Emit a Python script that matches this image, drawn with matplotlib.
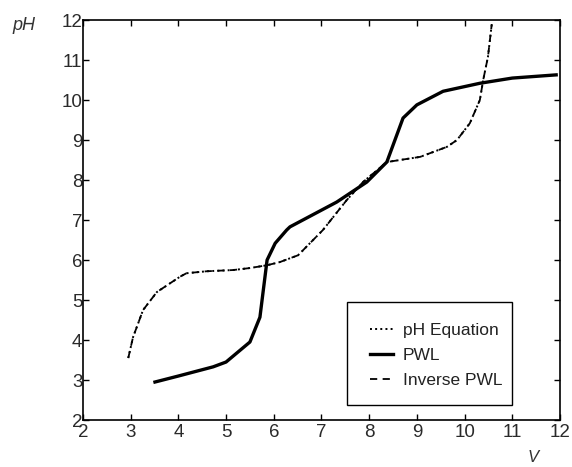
import matplotlib
matplotlib.use('Agg')
import matplotlib.pyplot as plt
from matplotlib.patches import Rectangle

# pH equation (dotted) and inverse PWL (dashed) lie on top of each other
eq_v = [2.95, 3.05, 3.26, 3.55, 4.03, 4.17, 4.6, 5.15, 5.5, 5.86, 6.13, 6.51,
        7.03, 7.53, 7.87, 8.37, 9.07, 9.63, 9.84, 10.11, 10.32, 10.39, 10.49, 10.57]
eq_ph = [3.55, 4.07, 4.75, 5.2, 5.58, 5.67, 5.72, 5.75, 5.8, 5.87, 5.95, 6.12,
         6.75, 7.5, 7.95, 8.45, 8.58, 8.83, 9.0, 9.42, 10.0, 10.5, 11.08, 11.9]

inv_v = eq_v
inv_ph = eq_ph

pwl_v = [3.51, 4.0, 4.73, 5.0, 5.5, 5.71, 5.86, 6.03, 6.27, 6.34, 7.32, 7.95,
         8.37, 8.71, 9.0, 9.55, 10.32, 11.0, 11.92]
pwl_ph = [2.95, 3.1, 3.33, 3.45, 3.95, 4.57, 6.0, 6.42, 6.75, 6.83, 7.45, 7.95,
          8.45, 9.55, 9.88, 10.22, 10.42, 10.55, 10.63]

plt.rcParams['font.family'] = ['Liberation Sans', 'DejaVu Sans']

fig = plt.figure(figsize=(5.72, 4.67), dpi=100)
ax = fig.add_axes([0.145, 0.1006, 0.834, 0.8564])

ax.plot(eq_v, eq_ph, color='black', linestyle=':', linewidth=1.4, label='pH Equation')
ax.plot(pwl_v, pwl_ph, color='black', linestyle='-', linewidth=2.4, label='PWL')
ax.plot(inv_v, inv_ph, color='black', linestyle='--', linewidth=1.3,
        dashes=(4, 3), label='Inverse PWL')

ax.set_xlim(2, 12)
ax.set_ylim(2, 12)
ax.set_xticks(range(2, 13))
ax.set_yticks(range(2, 13))
ax.tick_params(direction='in', length=4, width=1, top=True, right=True,
               labelsize=13.5, labelcolor='#2a2a2a')
ax.tick_params(axis='x', pad=3)
ax.tick_params(axis='y', pad=0.5)
for s in ax.spines.values():
    s.set_linewidth(1.2)

# legend frame drawn by hand (padding is uneven in the original)
ax.add_patch(Rectangle((0.553, 0.0375), 0.346, 0.2575, transform=ax.transAxes,
                       facecolor='white', edgecolor='black', linewidth=1.0, zorder=4))
leg = ax.legend(loc='upper left', bbox_to_anchor=(0.602, 0.242), fontsize=12.5,
                frameon=False, handlelength=1.32, handletextpad=0.55,
                borderpad=0, borderaxespad=0, labelspacing=0.55)
leg.set_zorder(5)
for t in leg.get_texts():
    t.set_color('#222222')

fig.text(0.021, 0.945, 'pH', fontsize=13, style='italic', color='#333333', va='center')
fig.text(0.923, 0.004, 'V', fontsize=12, style='italic', color='#333333', va='bottom')

fig.savefig('out.png', dpi=100)
